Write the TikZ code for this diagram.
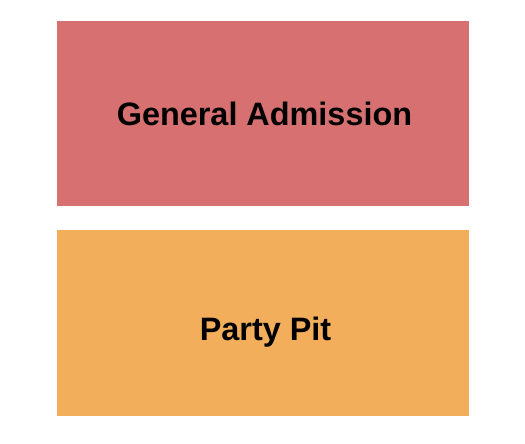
\documentclass[tikz,border=0pt]{standalone}
\usepackage{fontspec}
\setmainfont{Liberation Sans}
\definecolor{garea}{HTML}{D77070}
\definecolor{parea}{HTML}{F2AE5A}
\begin{document}
\begin{tikzpicture}[x=1pt,y=-1pt,
  lbl/.style={font=\fontsize{32.4}{36}\selectfont\bfseries, text=black, inner sep=0pt}]
\useasboundingbox (0,0) rectangle (525,444);
\fill[garea] (57,21) rectangle (469,206);
\fill[parea] (57,230) rectangle (469,416);
\node[lbl, anchor=base] (ga) at (264.5,125) {General Admission};
\node[lbl, anchor=base] (pp) at (265.5,340) {Party Pit};
\end{tikzpicture}
\end{document}
